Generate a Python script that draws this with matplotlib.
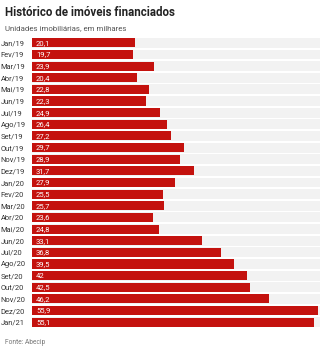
import matplotlib.pyplot as plt

meses = ['Jan/19', 'Fev/19', 'Mar/19', 'Abr/19', 'Mai/19', 'Jun/19', 'Jul/19',
         'Ago/19', 'Set/19', 'Out/19', 'Nov/19', 'Dez/19', 'Jan/20', 'Fev/20',
         'Mar/20', 'Abr/20', 'Mai/20', 'Jun/20', 'Jul/20', 'Ago/20', 'Set/20',
         'Out/20', 'Nov/20', 'Dez/20', 'Jan/21']
valores = [20.1, 19.7, 23.9, 20.4, 22.8, 22.3, 24.9, 26.4, 27.2, 29.7, 28.9,
           31.7, 27.9, 25.5, 25.7, 23.6, 24.8, 33.1, 36.8, 39.5, 42, 42.5,
           46.2, 55.9, 55.1]

plt.rcParams['font.family'] = ['Roboto', 'DejaVu Sans']

fig = plt.figure(figsize=(3.25, 3.5), dpi=100)
ax = fig.add_axes([32 / 325, 1 - 328 / 350, (320 - 32) / 325, (328 - 37) / 350])

xmax = 56.2
y = list(range(len(meses)))
ax.barh(y, [xmax] * len(y), height=0.85, color='#f2f2f2', zorder=1)
ax.barh(y, valores, height=0.78, color='#c4120e', zorder=2)

for i, v in enumerate(valores):
    txt = str(v).replace('.', ',')
    ax.text(0.8, i, txt, color='white', fontsize=5.5, va='center', ha='left', zorder=3)

ax.set_xlim(0, xmax)
ax.set_ylim(len(meses) - 0.5, -0.5)
ax.set_yticks(y)
ax.set_yticklabels(meses, fontsize=5.4, color='#333333')
ax.tick_params(axis='y', length=0, pad=3)
for lbl in ax.get_yticklabels():
    lbl.set_horizontalalignment('left')
    lbl.set_x(-27 / 288)
ax.set_xticks([])
for s in ax.spines.values():
    s.set_visible(False)

fig.text(5 / 325, 1 - 12 / 350, 'Histórico de imóveis financiados', fontsize=8.3,
         fontweight='bold', color='#222222', va='center')
fig.text(5 / 325, 1 - 28 / 350, 'Unidades imobiliárias, em milhares', fontsize=5.7,
         color='#555555', va='center')
fig.text(5 / 325, 1 - 342 / 350, 'Fonte: Abecip', fontsize=4.8, color='#777777', va='center')

fig.savefig('out.png', dpi=100, facecolor='white')
